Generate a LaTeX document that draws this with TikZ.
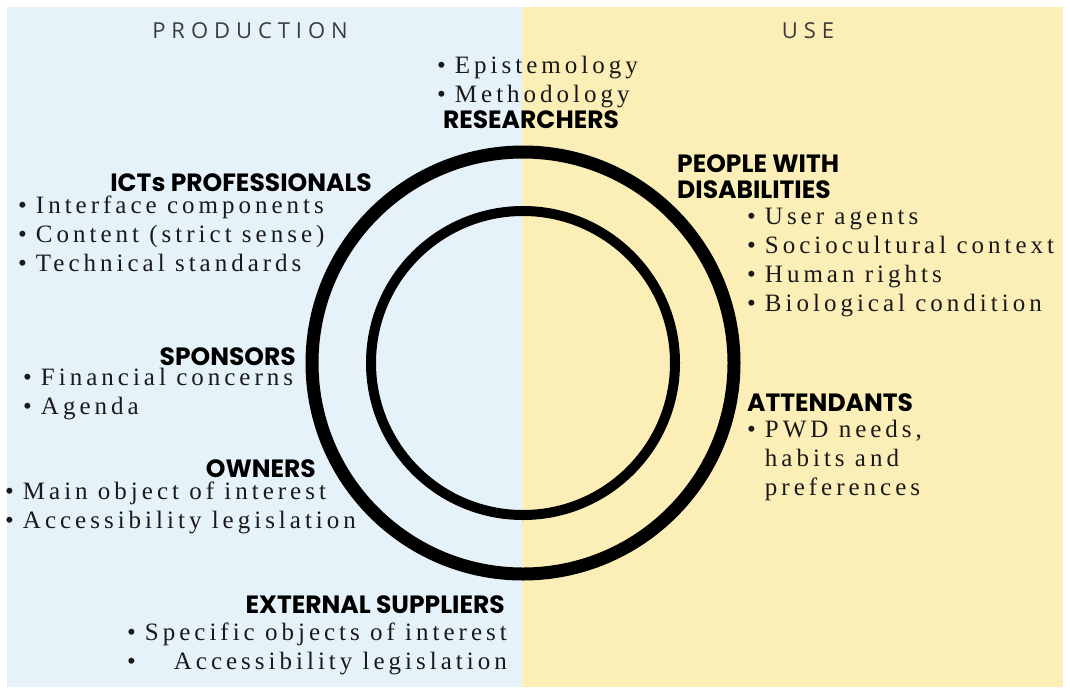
\documentclass[tikz,border=0pt]{standalone}
\usepackage{fontspec}
\setmainfont{Liberation Serif}
\newfontfamily\bodyfont[LetterSpace=16]{Liberation Serif}
\newfontfamily\headfont{Poppins}
\newfontfamily\titlefont[LetterSpace=27]{Open Sans}
\definecolor{bgblue}{RGB}{230,242,250}
\definecolor{bgyellow}{RGB}{252,238,183}
\definecolor{bodytext}{RGB}{25,25,25}
\definecolor{titletext}{RGB}{60,60,60}
\tikzset{
  head/.style={font=\headfont\bfseries\fontsize{25}{25}\selectfont, inner sep=0pt, text=black, align=left},
  items/.style={font=\bodyfont\fontsize{25}{29}\selectfont, inner sep=0pt, text=bodytext},
  title/.style={font=\titlefont\fontsize{22}{22}\selectfont, inner sep=0pt, text=titletext},
  ring/.style={draw=black, circle, inner sep=0pt}
}
\newcommand{\blist}[1]{\begin{tabular}[t]{@{}l@{\hspace{9pt}}l@{}}#1\end{tabular}}
\begin{document}
\begin{tikzpicture}[x=1pt,y=-1pt]
\useasboundingbox (0,0) rectangle (1070,691);
\fill[white] (0,0) rectangle (1070,691);
\fill[bgblue] (7,7) rectangle (522,687);
\fill[bgyellow] (522,7) rectangle (1063,687);

\node[ring, line width=13pt, minimum size=422pt] (outer) at (523,363) {};
\node[ring, line width=10pt, minimum size=304pt] (inner) at (523,363) {};

\node[title, anchor=base] (prod) at (250,38) {PRODUCTION};
\node[title, anchor=base] (use) at (808,38) {USE};

\node[items, anchor=base west] (resitems) at (437,73) {\blist{\textbullet & Epistemology\\ \textbullet & Methodology}};
\node[head, anchor=base] (res) at (531,128) {RESEARCHERS};

\node[head, anchor=base east] (ict) at (372,191) {ICTs PROFESSIONALS};
\node[items, anchor=base west] (icitems) at (18,213) {\blist{\textbullet & Interface components\\ \textbullet & Content (strict sense)\\ \textbullet & Technical standards}};

\node[head, anchor=base east] (spon) at (296,365) {SPONSORS};
\node[items, anchor=base west] (sponitems) at (23,385) {\blist{\textbullet & Financial concerns\\ \textbullet & Agenda}};

\node[head, anchor=base east] (own) at (316,477) {OWNERS};
\node[items, anchor=base west] (ownitems) at (5,499) {\blist{\textbullet & Main object of interest\\ \textbullet & Accessibility legislation}};

\node[head, anchor=base east] (ext) at (505,613) {EXTERNAL SUPPLIERS};
\node[items, anchor=base east] (extitems) at (507,640) {\begin{tabular}[t]{@{}l@{\hspace{9pt}}r@{}}\textbullet & Specific objects of interest\\ \textbullet & Accessibility legislation\end{tabular}};

\node[head, anchor=base west] (pwd) at (677,198) {PEOPLE WITH\\[1pt]DISABILITIES};
\node[items, anchor=base west] (pwditems) at (747,224) {\blist{\textbullet & User agents\\ \textbullet & Sociocultural context\\ \textbullet & Human rights\\ \textbullet & Biological condition}};

\node[head, anchor=base west] (att) at (747,411) {ATTENDANTS};
\node[items, anchor=base west] (attitems) at (747,437) {\blist{\textbullet & PWD needs,\\ & habits and\\ & preferences}};
\end{tikzpicture}
\end{document}
